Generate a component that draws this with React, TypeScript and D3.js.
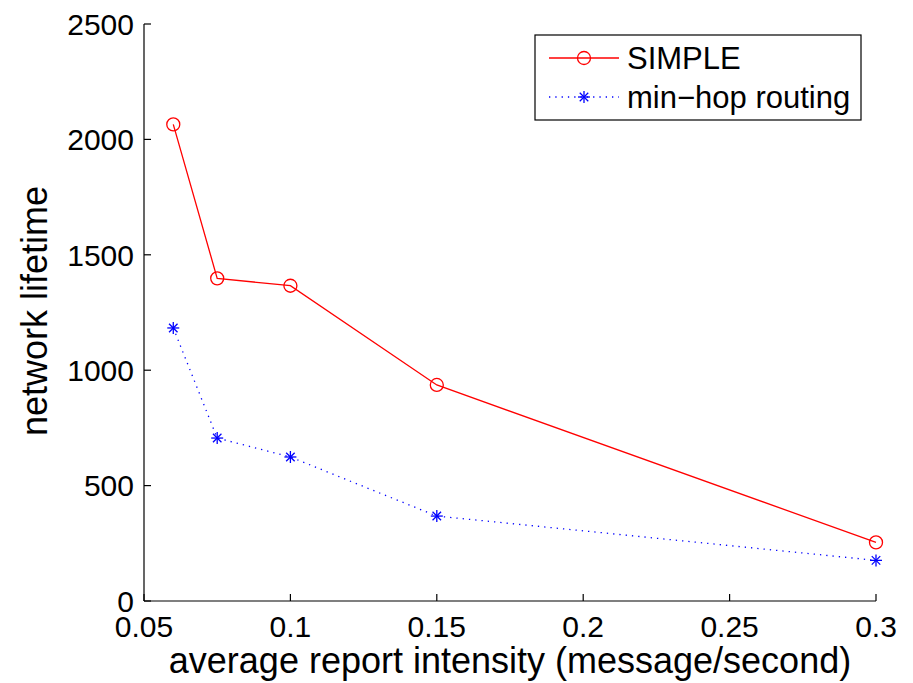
import React from "react";
import * as d3 from "d3";

const intensity = [0.06, 0.075, 0.1, 0.15, 0.3];
const simpleLifetime = [2065, 1398, 1366, 936, 254];
const minHopLifetime = [1183, 706, 624, 368, 176];
const xTicks = [0.05, 0.1, 0.15, 0.2, 0.25, 0.3];
const yTicks = [0, 500, 1000, 1500, 2000, 2500];
const seriesNames = ["SIMPLE", "min\u2212hop routing"];
const xLabel = "average report intensity (message/second)";
const yLabel = "network lifetime";

const W = 913;
const H = 683;
const m = { left: 144, right: 37, top: 24, bottom: 82 };
const FONT = "'Liberation Sans', Arial, Helvetica, sans-serif";
const TICK_FS = 30;
const LABEL_FS = 36;
const LEGEND_FS = 31;

function Star({ x, y, r, color }: { x: number; y: number; r: number; color: string }) {
  const lines = [0, 45, 90, 135].map((a) => {
    const rad = (a * Math.PI) / 180;
    return (
      <line
        key={a}
        x1={x - r * Math.cos(rad)}
        y1={y - r * Math.sin(rad)}
        x2={x + r * Math.cos(rad)}
        y2={y + r * Math.sin(rad)}
        stroke={color}
        strokeWidth={1.3}
      />
    );
  });
  return <g>{lines}</g>;
}

export default function App() {
  const x = d3.scaleLinear().domain([0.05, 0.3]).range([m.left, W - m.right]);
  const y = d3.scaleLinear().domain([0, 2500]).range([H - m.bottom, m.top]);
  const line = d3
    .line<number>()
    .x((_, i) => x(intensity[i]))
    .y((d) => y(d));

  const x0 = m.left;
  const y0 = H - m.bottom;
  const fmtX = (v: number) => String(+v.toFixed(2));

  const lgX = 535, lgY = 35, lgW = 326, lgH = 85;

  return (
    <svg
      width={W}
      height={H}
      style={{ position: "absolute", left: 0, top: 0, background: "#fff" }}
      fontFamily={FONT}
    >
      {/* axes */}
      <line x1={x0} y1={y(2500)} x2={x0} y2={y0} stroke="#000" strokeWidth={1.2} />
      <line x1={x0} y1={y0} x2={x(0.3)} y2={y0} stroke="#000" strokeWidth={1.2} />
      {yTicks.map((t) => (
        <g key={"y" + t}>
          <line x1={x0} x2={x0 + 7} y1={y(t)} y2={y(t)} stroke="#000" strokeWidth={1.2} />
          <text x={x0 - 10} y={y(t)} dy="0.36em" textAnchor="end" fontSize={TICK_FS} fill="#000">
            {t}
          </text>
        </g>
      ))}
      {xTicks.map((t) => (
        <g key={"x" + t}>
          <line x1={x(t)} x2={x(t)} y1={y0} y2={y0 - 7} stroke="#000" strokeWidth={1.2} />
          <text x={x(t)} y={637} textAnchor="middle" fontSize={TICK_FS} fill="#000">
            {fmtX(t)}
          </text>
        </g>
      ))}
      <text x={(x0 + x(0.3)) / 2} y={673} textAnchor="middle" fontSize={LABEL_FS} fill="#000">
        {xLabel}
      </text>
      <text
        transform={`translate(47, 311) rotate(-90)`}
        textAnchor="middle"
        fontSize={LABEL_FS}
        fill="#000"
      >
        {yLabel}
      </text>

      {/* series */}
      <path d={line(simpleLifetime) || ""} fill="none" stroke="#ff0000" strokeWidth={1.3} />
      {simpleLifetime.map((v, i) => (
        <circle key={"c" + i} cx={x(intensity[i])} cy={y(v)} r={6.5} fill="none" stroke="#ff0000" strokeWidth={1.3} />
      ))}
      <path
        d={line(minHopLifetime) || ""}
        fill="none"
        stroke="#0000ff"
        strokeWidth={1.3}
        strokeDasharray="1.3,5"
      />
      {minHopLifetime.map((v, i) => (
        <Star key={"s" + i} x={x(intensity[i])} y={y(v)} r={6} color="#0000ff" />
      ))}

      {/* legend */}
      <rect x={lgX} y={lgY} width={lgW} height={lgH} fill="#fff" stroke="#000" strokeWidth={1.2} />
      <line x1={549} x2={619} y1={58} y2={58} stroke="#ff0000" strokeWidth={1.3} />
      <circle cx={584} cy={58} r={6.5} fill="none" stroke="#ff0000" strokeWidth={1.3} />
      <text x={627} y={58} dy="0.36em" fontSize={LEGEND_FS} fill="#000">
        {seriesNames[0]}
      </text>
      <line x1={549} x2={619} y1={97} y2={97} stroke="#0000ff" strokeWidth={1.3} strokeDasharray="1.3,5" />
      <Star x={584} y={97} r={6} color="#0000ff" />
      <text x={627} y={97} dy="0.36em" fontSize={LEGEND_FS} fill="#000">
        {seriesNames[1]}
      </text>
    </svg>
  );
}
